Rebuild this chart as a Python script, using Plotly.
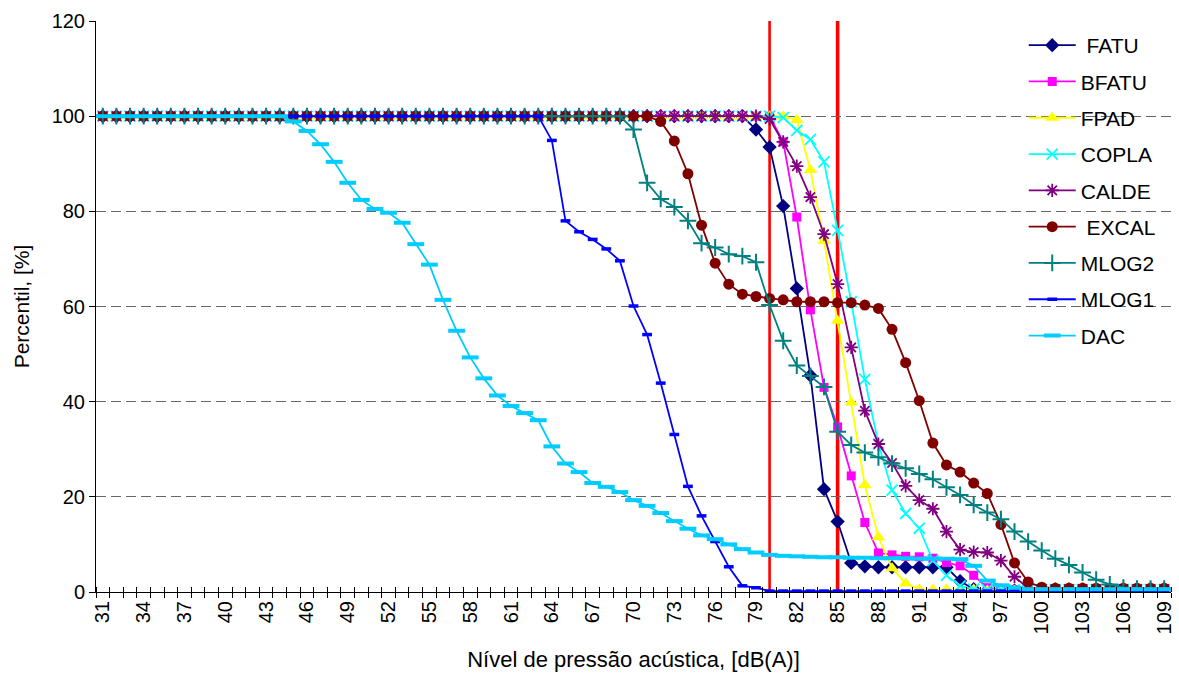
import plotly.graph_objects as go

# Sound pressure level categories, dB(A)
levels = [31, 32, 33, 34, 35, 36, 37, 38, 39, 40, 41, 42, 43, 44, 45, 46, 47, 48, 49, 50,
          51, 52, 53, 54, 55, 56, 57, 58, 59, 60, 61, 62, 63, 64, 65, 66, 67, 68, 69, 70,
          71, 72, 73, 74, 75, 76, 77, 78, 79, 80, 81, 82, 83, 84, 85, 86, 87, 88, 89, 90,
          91, 92, 93, 94, 95, 96, 97, 98, 99, 100, 101, 102, 103, 104, 105, 106, 107, 108, 109]

tick_labels = [31, 34, 37, 40, 43, 46, 49, 52, 55, 58, 61, 64, 67, 70, 73, 76, 79, 82, 85,
               88, 91, 94, 97, 100, 103, 106, 109]

# Limit levels marked with vertical red lines
limit_levels = [80, 85]

# Percentile curves (one value per level)
fatu = [100, 100, 100, 100, 100, 100, 100, 100, 100, 100, 100, 100, 100, 100, 100, 100, 100, 100, 100, 100,
        100, 100, 100, 100, 100, 100, 100, 100, 100, 100, 100, 100, 100, 100, 100, 100, 100, 100, 100, 100,
        100, 100, 100, 100, 100, 100, 100, 100, 97.2, 93.5, 81.1, 63.8, 45.5, 21.6, 14.8, 6.1, 5.4, 5.2, 5.2, 5.2,
        5.2, 5.2, 5.2, 2.3, 0.6, 0.3, 0.3, 0.3, 0.3, 0.3, 0.3, 0.3, 0.3, 0.3, 0.3, 0.3, 0.3, 0.3, 0.3]

bfatu = [100, 100, 100, 100, 100, 100, 100, 100, 100, 100, 100, 100, 100, 100, 100, 100, 100, 100, 100, 100,
         100, 100, 100, 100, 100, 100, 100, 100, 100, 100, 100, 100, 100, 100, 100, 100, 100, 100, 100, 100,
         100, 100, 100, 100, 100, 100, 100, 100, 100, 100, 94.6, 78.8, 59.3, 43.0, 34.7, 24.4, 14.6, 8.2, 7.8, 7.5,
         7.4, 7.1, 6.2, 5.5, 3.5, 0.9, 0.5, 0.5, 0.5, 0.5, 0.5, 0.5, 0.5, 0.5, 0.5, 0.5, 0.5, 0.5, 0.5]

fpad = [100, 100, 100, 100, 100, 100, 100, 100, 100, 100, 100, 100, 100, 100, 100, 100, 100, 100, 100, 100,
        100, 100, 100, 100, 100, 100, 100, 100, 100, 100, 100, 100, 100, 100, 100, 100, 100, 100, 100, 100,
        100, 100, 100, 100, 100, 100, 100, 100, 100, 100, 100, 99.2, 88.7, 73.8, 57.0, 39.8, 22.5, 11.5, 5.0, 1.8,
        0.6, 0.5, 0.5, 0.5, 0.5, 0.3, 0.3, 0.3, 0.3, 0.3, 0.3, 0.3, 0.3, 0.3, 0.3, 0.3, 0.3, 0.3, 0.3]

copla = [100, 100, 100, 100, 100, 100, 100, 100, 100, 100, 100, 100, 100, 100, 100, 100, 100, 100, 100, 100,
         100, 100, 100, 100, 100, 100, 100, 100, 100, 100, 100, 100, 100, 100, 100, 100, 100, 100, 100, 100,
         100, 100, 100, 100, 100, 100, 100, 100, 100, 100, 99.7, 97.0, 95.1, 90.4, 76.0, 61.0, 44.7, 31.1, 21.4, 16.5,
         13.4, 6.6, 3.5, 1.3, 0.6, 0.5, 0.5, 0.5, 0.5, 0.5, 0.5, 0.5, 0.5, 0.5, 0.5, 0.5, 0.5, 0.5, 0.5]

calde = [100, 100, 100, 100, 100, 100, 100, 100, 100, 100, 100, 100, 100, 100, 100, 100, 100, 100, 100, 100,
         100, 100, 100, 100, 100, 100, 100, 100, 100, 100, 100, 100, 100, 100, 100, 100, 100, 100, 100, 100,
         100, 100, 100, 100, 100, 100, 100, 100, 100, 99.4, 94.6, 89.5, 83.0, 75.2, 64.7, 51.4, 38.1, 31.1, 27.1, 22.3,
         19.3, 17.5, 12.7, 8.9, 8.4, 8.3, 6.6, 3.2, 0.8, 0.6, 0.6, 0.6, 0.6, 0.6, 0.6, 0.6, 0.6, 0.6, 0.6]

excal = [100, 100, 100, 100, 100, 100, 100, 100, 100, 100, 100, 100, 100, 100, 100, 100, 100, 100, 100, 100,
         100, 100, 100, 100, 100, 100, 100, 100, 100, 100, 100, 100, 100, 100, 100, 100, 100, 100, 100, 100,
         100, 98.9, 94.8, 87.9, 77.1, 69.1, 64.7, 62.6, 62.1, 61.7, 61.4, 61.0, 61.0, 61.0, 60.8, 60.8, 60.3, 59.6, 55.2, 48.2,
         40.2, 31.3, 26.7, 25.2, 22.9, 20.7, 14.2, 6.1, 2.1, 1.0, 0.8, 0.8, 0.8, 0.8, 0.8, 0.8, 0.8, 0.8, 0.8]

mlog2 = [100, 100, 100, 100, 100, 100, 100, 100, 100, 100, 100, 100, 100, 100, 100, 100, 100, 100, 100, 100,
         100, 100, 100, 100, 100, 100, 100, 100, 100, 100, 100, 100, 100, 100, 100, 100, 100, 100, 100, 97.2,
         86.0, 82.6, 80.9, 78.0, 73.3, 72.4, 71.0, 70.6, 69.3, 60.3, 52.8, 47.6, 45.4, 43.1, 33.7, 30.9, 29.3, 28.3, 27.0, 26.0,
         24.8, 23.7, 22.0, 20.4, 18.3, 16.7, 15.3, 12.7, 10.6, 8.7, 7.0, 5.7, 4.1, 2.6, 1.6, 0.9, 0.7, 0.7, 0.7]

mlog1 = [100, 100, 100, 100, 100, 100, 100, 100, 100, 100, 100, 100, 100, 100, 100, 100, 100, 100, 100, 100,
         100, 100, 100, 100, 100, 100, 100, 100, 100, 100, 100, 100, 100, 94.9, 78.0, 75.7, 74.1, 72.1, 69.6, 60.1,
         54.1, 43.9, 33.1, 22.2, 16.0, 10.6, 5.3, 1.3, 0.9, 0.2, 0.2, 0.2, 0.2, 0.2, 0.2, 0.2, 0.2, 0.2, 0.2, 0.2,
         0.2, 0.2, 0.2, 0.2, 0.2, 0.2, 0.2, 0.2, 0.2, 0.2, 0.2, 0.2, 0.2, 0.2, 0.2, 0.2, 0.2, 0.2, 0.2]

dac = [100, 100, 100, 100, 100, 100, 100, 100, 100, 100, 100, 100, 100, 100, 98.9, 96.9, 94.1, 90.4, 86.0, 82.4,
       80.5, 79.7, 77.6, 73.1, 68.8, 61.4, 54.9, 49.3, 44.9, 41.3, 39.1, 37.6, 36.1, 30.6, 27.0, 25.2, 22.9, 22.1, 21.0, 19.3,
       18.1, 16.6, 14.9, 13.3, 11.9, 11.1, 10.0, 9.0, 8.3, 7.8, 7.6, 7.5, 7.4, 7.3, 7.3, 7.2, 7.2, 7.1, 7.1, 7.1,
       7.0, 7.0, 7.0, 6.9, 5.5, 2.4, 1.4, 0.9, 0.6, 0.6, 0.6, 0.6, 0.6, 0.6, 0.6, 0.6, 0.6, 0.6, 0.6]

FONT = "Arial, Liberation Sans, sans-serif"

series = [
    (" FATU", fatu, "#000080", dict(symbol="diamond", size=11)),
    ("BFATU", bfatu, "#FF00FF", dict(symbol="square", size=9)),
    ("FPAD", fpad, "#FFFF00", dict(symbol="triangle-up", size=12)),
    ("COPLA", copla, "#00FFFF", dict(symbol="x-thin-open", size=11, line=dict(width=1.8, color="#00FFFF"))),
    ("CALDE", calde, "#800080", dict(symbol="asterisk-open", size=11, line=dict(width=1.8, color="#800080"))),
    (" EXCAL", excal, "#800000", dict(symbol="circle", size=11)),
    ("MLOG2", mlog2, "#008080", dict(symbol="cross-thin-open", size=12, line=dict(width=2, color="#008080"))),
    ("MLOG1", mlog1, "#0000FF", dict(symbol="line-ew-open", size=7, line=dict(width=3.5, color="#0000FF"))),
    ("DAC", dac, "#00CCFF", dict(symbol="line-ew-open", size=12, line=dict(width=4, color="#00CCFF"))),
]

fig = go.Figure()

for name, values, color, marker in series:
    marker = dict(marker)
    marker["color"] = color
    fig.add_trace(go.Scatter(
        x=levels, y=values, name=name, mode="lines+markers",
        line=dict(color=color, width=1.8),
        marker=marker,
        legendgroup=name,
    ))

# Invisible trace that carries the inner half of the category tick marks
fig.add_trace(go.Scatter(x=levels, y=dac, xaxis="x2", mode="lines",
                         line=dict(width=0), showlegend=False, hoverinfo="skip"))

for lvl, w in zip(limit_levels, [2.6, 3.6]):
    fig.add_shape(type="line", x0=lvl, x1=lvl, xref="x", y0=0, y1=1, yref="paper",
                  line=dict(color="#FF0000", width=w), layer="below")

xrange = [30.5, 109.5]

fig.update_layout(
    width=1179, height=682,
    margin=dict(l=96, r=4, t=21, b=90),
    paper_bgcolor="white", plot_bgcolor="white",
    font=dict(family=FONT, size=19, color="black"),
    showlegend=True,
    legend=dict(
        x=0.863, y=0.993, xanchor="left", yanchor="top",
        font=dict(family=FONT, size=21, color="black"),
        bgcolor="rgba(255,255,255,0)", tracegroupgap=6, itemwidth=47,
    ),
    xaxis=dict(
        range=xrange, tickmode="array", tickvals=tick_labels,
        ticktext=[str(v) for v in tick_labels], tickangle=-90,
        ticks="", showgrid=False, zeroline=False,
        showline=True, linecolor="black", linewidth=1,
        tickfont=dict(family=FONT, size=20),
        minor=dict(tickmode="linear", tick0=30.5, dtick=1, ticks="outside",
                   ticklen=5, tickcolor="black", tickwidth=1, showgrid=False),
        title=dict(text="Nível de pressão acústica, [dB(A)]", standoff=18,
                   font=dict(family=FONT, size=22)),
    ),
    xaxis2=dict(
        range=xrange, overlaying="x", anchor="y", side="bottom",
        showticklabels=False, ticks="", showgrid=False, zeroline=False, showline=False,
        minor=dict(tickmode="linear", tick0=30.5, dtick=1, ticks="inside",
                   ticklen=5, tickcolor="black", tickwidth=1, showgrid=False),
    ),
    yaxis=dict(
        range=[0, 120], tickmode="linear", tick0=0, dtick=20,
        ticks="outside", ticklen=6, tickcolor="black",
        showgrid=True, gridcolor="#666666", griddash="10px,5px", gridwidth=1,
        zeroline=False, showline=True, linecolor="black", linewidth=1,
        tickfont=dict(family=FONT, size=20),
        title=dict(text="Percentil, [%]", standoff=16, font=dict(family=FONT, size=21)),
    ),
)

fig.write_html("out.html")
